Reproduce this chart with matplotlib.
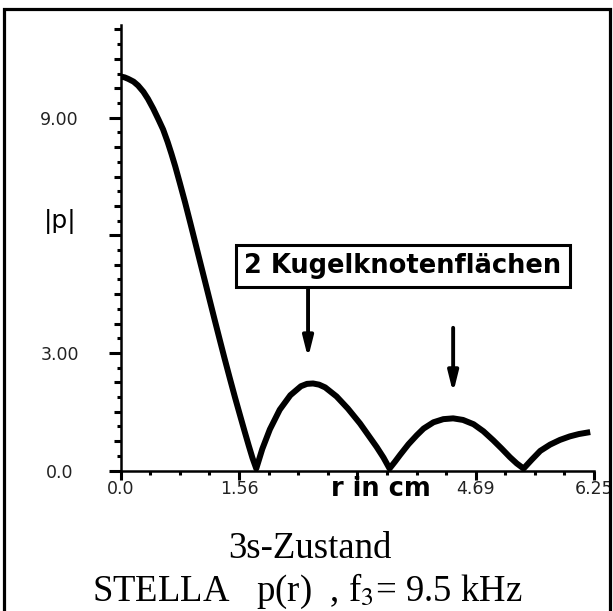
import numpy as np
import matplotlib
matplotlib.use("Agg")
import matplotlib.pyplot as plt
from matplotlib.markers import TICKLEFT
from matplotlib.patches import Rectangle

plt.rcParams['mathtext.fontset'] = 'stix'

# |p| over r
r = [0.00, 0.05, 0.10, 0.17, 0.23, 0.30, 0.36, 0.43, 0.50, 0.56, 0.62, 0.67, 0.72,
     0.78, 0.85, 0.92, 0.98, 1.05, 1.11, 1.18, 1.24, 1.31, 1.37, 1.44, 1.51, 1.58,
     1.63, 1.69, 1.74, 1.79, 1.87, 1.97, 2.10, 2.24, 2.38, 2.46, 2.54, 2.62, 2.70,
     2.85, 3.00, 3.16, 3.27, 3.38, 3.47, 3.55, 3.62, 3.69, 3.80, 3.91, 4.00, 4.13,
     4.26, 4.39, 4.52, 4.66, 4.79, 4.92, 5.03, 5.14, 5.23, 5.32, 5.43, 5.54, 5.67,
     5.80, 5.93, 6.05, 6.20]
p = [10.05, 10.03, 9.99, 9.92, 9.82, 9.66, 9.48, 9.23, 8.95, 8.70, 8.38, 8.08, 7.76,
     7.34, 6.84, 6.31, 5.85, 5.31, 4.85, 4.31, 3.85, 3.32, 2.87, 2.36, 1.86, 1.38,
     1.04, 0.64, 0.32, 0.05, 0.55, 1.05, 1.55, 1.92, 2.15, 2.21, 2.22, 2.19, 2.12,
     1.89, 1.58, 1.20, 0.90, 0.60, 0.33, 0.05, 0.22, 0.40, 0.67, 0.90, 1.07, 1.23,
     1.31, 1.33, 1.29, 1.18, 1.00, 0.77, 0.56, 0.34, 0.18, 0.05, 0.28, 0.50, 0.66,
     0.78, 0.87, 0.93, 0.98]

xticks = [0.0, 1.5625, 3.125, 4.6875, 6.25]
xticklabels = ['0.0', '1.56', '', '4.69', '6.25']
yticks = [0, 3, 6, 9]
yticklabels = ['0.0', '3.00', '', '9.00']

W, H = 613, 611
fig = plt.figure(figsize=(W / 100, H / 100), dpi=100)

# axes placed in pixels: origin at (120.7, 470.5) from top-left
x0, x1 = 120.7, 594.0
yb, yt = 470.5, 25.0
ax = fig.add_axes([x0 / W, (H - yb) / H, (x1 - x0) / W, (yb - yt) / H])
ax.set_xlim(0, 6.25)
ax.set_ylim(0, (yb - yt) / 39.2)

ax.plot(r, p, color='black', lw=4.3, solid_capstyle='butt', solid_joinstyle='round')

for s in ['top', 'right']:
    ax.spines[s].set_visible(False)
for s in ['left', 'bottom']:
    ax.spines[s].set_linewidth(1.8)

ax.set_xticks(xticks)
ax.set_xticklabels(xticklabels, fontsize=12.5, color='#222222')
ax.set_yticks(yticks)
ax.set_yticklabels(yticklabels, fontsize=12.5, color='#222222', ha='center')
ax.set_xticks(np.arange(0, 6.25, 0.390625), minor=True)
ax.set_yticks(np.arange(0, 11.3, 0.75), minor=True)
ax.tick_params(axis='x', which='major', direction='out', length=6.5, width=2.2, pad=0)
ax.tick_params(axis='x', which='minor', direction='out', length=3, width=2.2)
ax.tick_params(axis='y', which='major', direction='out', length=9, width=2.2, pad=35)
ax.tick_params(axis='y', which='minor', direction='out', length=5, width=2.2)

# smallest y ticks between the minor ones
small_y = np.arange(0.375, 11.3, 0.75)
ax.plot(np.zeros(len(small_y)), small_y, ls='none', marker=TICKLEFT, ms=3,
        mew=2.2, color='black', clip_on=False)

# axis labels
fig.text(60 / W, 1 - 222 / H, '|p|', fontsize=18, ha='center', va='center')
fig.text(381 / W, 1 - 489 / H, 'r in cm', fontsize=18.5, fontweight='bold',
         ha='center', va='center')

# annotation box and arrows
fig.text(403 / W, 1 - 266 / H, '2 Kugelknotenflächen', fontsize=18.5,
         fontweight='bold', ha='center', va='center',
         bbox=dict(boxstyle='square,pad=0.32', fc='white', ec='black', lw=2.2))
arrow = dict(arrowstyle='-|>,head_length=1.2,head_width=0.3', color='black',
             lw=2.8, shrinkA=0, shrinkB=0)
ax.annotate('', xy=(2.474, 2.87), xytext=(2.474, 4.66), arrowprops=arrow)
ax.annotate('', xy=(4.39, 1.98), xytext=(4.39, 3.64), arrowprops=arrow)

# caption
fig.text(310 / W, 1 - 558 / H, '3s-Zustand', fontsize=26.5,
         family='Liberation Serif', ha='center', va='baseline')
fig.text(307 / W, 1 - 601 / H, r'STELLA   p(r)  , f$_{3}$= 9.5 kHz', fontsize=26.5,
         family='Liberation Serif', ha='center', va='baseline')

# outer frame, open at the bottom edge
fig.patches.append(Rectangle((4 / W, -0.05), 606 / W, 1.05 - 9 / H,
                             transform=fig.transFigure, fill=False,
                             ec='black', lw=2.3))

fig.savefig('out.png', dpi=100)
